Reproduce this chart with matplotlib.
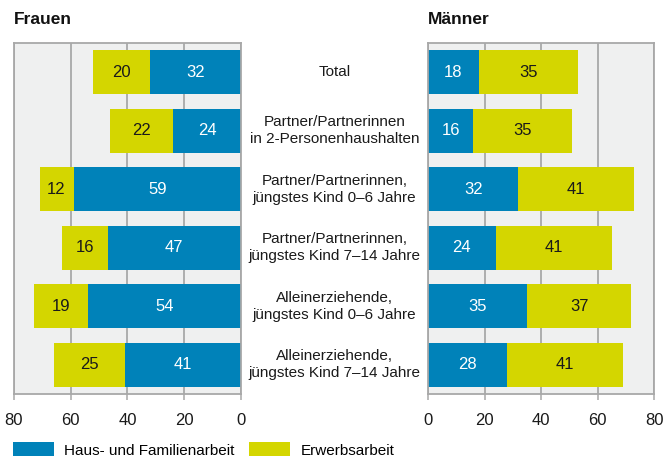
import matplotlib
matplotlib.use("Agg")
import matplotlib.pyplot as plt
from matplotlib.patches import Patch

categories = [
    "Total",
    "Partner/Partnerinnen\nin 2-Personenhaushalten",
    "Partner/Partnerinnen,\njüngstes Kind 0–6 Jahre",
    "Partner/Partnerinnen,\njüngstes Kind 7–14 Jahre",
    "Alleinerziehende,\njüngstes Kind 0–6 Jahre",
    "Alleinerziehende,\njüngstes Kind 7–14 Jahre",
]
frauen_haus = [32, 24, 59, 47, 54, 41]
frauen_erwerb = [20, 22, 12, 16, 19, 25]
maenner_haus = [18, 16, 32, 24, 35, 28]
maenner_erwerb = [35, 35, 41, 41, 37, 41]
series_labels = ["Haus- und Familienarbeit", "Erwerbsarbeit"]
ticks = [0, 20, 40, 60, 80]

BLUE = "#0082b9"
YELLOW = "#d4d600"
BG = "#eff0f0"
GRID = "#a8a8a8"
FONT = ["Liberation Sans", "DejaVu Sans"]
FS = 11

W, H = 664, 459
fig = plt.figure(figsize=(W / 100, H / 100), dpi=100)

def px_axes(x0, x1, y0, y1):
    return fig.add_axes([x0 / W, 1 - y1 / H, (x1 - x0) / W, (y1 - y0) / H])

axL = px_axes(14, 241, 43, 394)
axR = px_axes(428, 654, 43, 394)

ypos = list(range(len(categories)))

def style(ax, invert):
    ax.set_facecolor(BG)
    ax.set_xlim(0, 80)
    if invert:
        ax.invert_xaxis()
    ax.set_ylim(len(categories) - 0.5, -0.5)
    ax.set_xticks(ticks)
    ax.set_xticklabels([str(t) for t in ticks], fontfamily=FONT, fontsize=12)
    ax.set_yticks([])
    ax.tick_params(axis="x", direction="out", length=4, width=1.1, color=GRID,
                   pad=10, labelcolor="#1a1a1a")
    for s in ax.spines.values():
        s.set_color(GRID)
        s.set_linewidth(1.3)
    ax.set_axisbelow(True)
    ax.grid(axis="x", color=GRID, linewidth=1.3)
    ax.grid(axis="y", visible=False)

bh = 0.76

def draw(ax, haus, erwerb):
    ax.barh(ypos, haus, height=bh, color=BLUE, linewidth=0)
    ax.barh(ypos, erwerb, left=haus, height=bh, color=YELLOW, linewidth=0)
    for y, h, e in zip(ypos, haus, erwerb):
        ax.text(h / 2, y, str(h), ha="center", va="center", color="white",
                fontfamily=FONT, fontsize=12)
        ax.text(h + e / 2, y, str(e), ha="center", va="center", color="#1a1a1a",
                fontfamily=FONT, fontsize=12)

style(axL, True)
style(axR, False)
draw(axL, frauen_haus, frauen_erwerb)
draw(axR, maenner_haus, maenner_erwerb)

# category labels in the gap
for y, c in zip(ypos, categories):
    axR.annotate(c, xy=(0, y), xycoords=("axes fraction", "data"),
                 xytext=(-93.5, 0), textcoords="offset pixels",
                 ha="center", va="center", fontfamily=FONT, fontsize=FS,
                 linespacing=1.3, color="#1a1a1a")

fig.text(14 / W, 1 - 20 / H, "Frauen", ha="left", va="center",
         fontfamily=["Liberation Sans", "DejaVu Sans"], fontweight="bold",
         fontsize=12.5, color="#111111")
fig.text(428 / W, 1 - 20 / H, "Männer", ha="left", va="center",
         fontfamily=["Liberation Sans", "DejaVu Sans"], fontweight="bold",
         fontsize=12.5, color="#111111")

handles = [Patch(facecolor=BLUE, edgecolor="none"),
           Patch(facecolor=YELLOW, edgecolor="none")]
fig.legend(handles, series_labels, loc="center left",
           bbox_to_anchor=(10 / W, 1 - 450 / H), ncol=2, frameon=False,
           prop={"family": FONT, "size": FS}, handlelength=2.7,
           handleheight=1.0, handletextpad=0.65, columnspacing=0.95,
           borderaxespad=0, borderpad=0.2)

fig.savefig("out.png", dpi=100)
